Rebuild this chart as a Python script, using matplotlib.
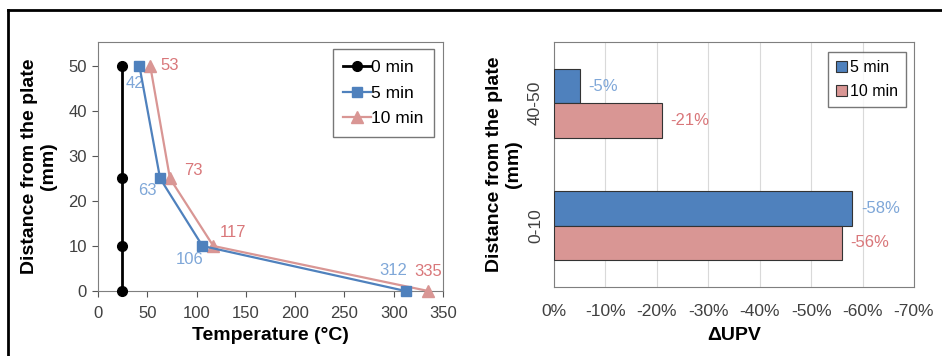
import matplotlib
matplotlib.use("Agg")
import matplotlib.pyplot as plt
from matplotlib.lines import Line2D

# ---- data ----
dist = [0, 10, 25, 50]
temp_0 = [24, 24, 24, 24]
temp_5 = [312, 106, 63, 42]
temp_10 = [335, 117, 73, 53]
series_labels = ["0 min", "5 min", "10 min"]

bar_cats = ["0-10", "40-50"]
upv_5 = [58, 5]
upv_10 = [56, 21]
xticks_right = [0, 10, 20, 30, 40, 50, 60, 70]

BLUE = "#4F81BD"
PINK = "#D99694"
BLUE_TXT = "#7FA7D8"
PINK_TXT = "#D9777A"
TICK_C = "#555555"

plt.rcParams["font.family"] = ["Liberation Sans", "DejaVu Sans"]

fig = plt.figure(figsize=(9.42, 3.56), dpi=100)
W, H = 942, 356

def ax_rect(x0, y0, x1, y1):
    return [x0 / W, 1 - y1 / H, (x1 - x0) / W, (y1 - y0) / H]

# outer frame (top and left lines)
fig.add_artist(Line2D([8 / W, 8 / W], [0, 1 - 10 / H], color="black", lw=2, transform=fig.transFigure))
fig.add_artist(Line2D([8 / W, 1], [1 - 10 / H, 1 - 10 / H], color="black", lw=2, transform=fig.transFigure))

# ---- left chart ----
ax1 = fig.add_axes(ax_rect(98, 42, 443, 291))
ax1.plot(temp_0, dist, color="black", marker="o", ms=7, lw=2, label=series_labels[0], zorder=5, clip_on=False)
ax1.plot(temp_5, dist, color=BLUE, marker="s", ms=7, lw=1.6, label=series_labels[1], zorder=4, clip_on=False)
ax1.plot(temp_10, dist, color=PINK, marker="^", ms=8, lw=1.6, label=series_labels[2], zorder=3, clip_on=False)
ax1.set_xlim(0, 350)
ax1.set_ylim(0, 55.3)
ax1.set_xticks(range(0, 351, 50))
ax1.set_yticks(range(0, 51, 10))
for s in ax1.spines.values():
    s.set_color("#7f7f7f")
ax1.tick_params(colors=TICK_C, labelsize=12, length=4, direction="out", pad=4)
ax1.tick_params(axis="x", pad=7)
for lab in ax1.get_xticklabels() + ax1.get_yticklabels():
    lab.set_color("#404040")

# value labels (offsets in points), ordered as dist
blue_off = [(-9, 15), (-9, -10), (-9, -9), (-3, -13)]
pink_off = [(0, 14), (14, 10), (17, 6), (14, 0)]
for i in range(len(dist)):
    dx, dy = blue_off[i]
    ax1.annotate(str(temp_5[i]), (temp_5[i], dist[i]), xytext=(dx, dy),
                 textcoords="offset points", color=BLUE_TXT, fontsize=12, ha="center", va="center")
    dx, dy = pink_off[i]
    ax1.annotate(str(temp_10[i]), (temp_10[i], dist[i]), xytext=(dx, dy),
                 textcoords="offset points", color=PINK_TXT, fontsize=12, ha="center", va="center")

ax1.set_xlabel("Temperature (°C)", fontsize=14, fontweight="bold", labelpad=4)
ax1.set_ylabel("Distance from the plate\n(mm)", fontsize=14, fontweight="bold", labelpad=8,
               linespacing=1.2)
leg1 = ax1.legend(loc="upper right", bbox_to_anchor=(0.974, 0.97), fontsize=12.5, frameon=True,
                  fancybox=False, edgecolor="#555555", handlelength=1.6, handletextpad=0.0,
                  borderpad=0.6, labelspacing=0.6, borderaxespad=0)
leg1.get_frame().set_linewidth(1.0)

# ---- right chart ----
ax2 = fig.add_axes(ax_rect(554, 42, 914, 287))
h = 0.28
ypos = list(range(len(bar_cats)))
ax2.barh([y + h / 2 for y in ypos], upv_5, height=h, color=BLUE, edgecolor="#333333", lw=0.8,
         label="5 min", zorder=3)
ax2.barh([y - h / 2 for y in ypos], upv_10, height=h, color=PINK, edgecolor="#333333", lw=0.8,
         label="10 min", zorder=3)
for y, v in zip(ypos, upv_5):
    ax2.text(v + 1.7, y + h / 2, f"-{v}%", color=BLUE_TXT, fontsize=12, va="center", ha="left")
for y, v in zip(ypos, upv_10):
    ax2.text(v + 1.7, y - h / 2, f"-{v}%", color=PINK_TXT, fontsize=12, va="center", ha="left")
ax2.set_xlim(0, 70)
ax2.set_ylim(-0.5, 1.5)
ax2.set_xticks(xticks_right)
ax2.set_xticklabels([("0%" if t == 0 else f"-{t}%") for t in xticks_right])
ax2.set_yticks(ypos)
ax2.set_yticklabels(bar_cats, rotation=90, va="center")
ax2.grid(axis="x", color="#d9d9d9", lw=0.8, zorder=0)
ax2.tick_params(length=0, labelsize=12.5)
ax2.tick_params(axis="x", pad=12)
ax2.tick_params(axis="y", pad=8)
for lab in ax2.get_xticklabels() + ax2.get_yticklabels():
    lab.set_color("#404040")
for s in ax2.spines.values():
    s.set_color("#7f7f7f")
ax2.set_xlabel("ΔUPV", fontsize=14, fontweight="bold", labelpad=6)
ax2.set_ylabel("Distance from the plate\n(mm)", fontsize=14, fontweight="bold", labelpad=4,
               linespacing=1.2)
leg2 = ax2.legend(loc="upper right", bbox_to_anchor=(0.978, 0.96), fontsize=11.5, frameon=True,
                  fancybox=False, edgecolor="#555555", handlelength=0.7, handleheight=0.7,
                  handletextpad=0.2, borderpad=0.5, labelspacing=0.6, borderaxespad=0)
leg2.get_frame().set_linewidth(1.0)

fig.savefig("out.png", dpi=100)
